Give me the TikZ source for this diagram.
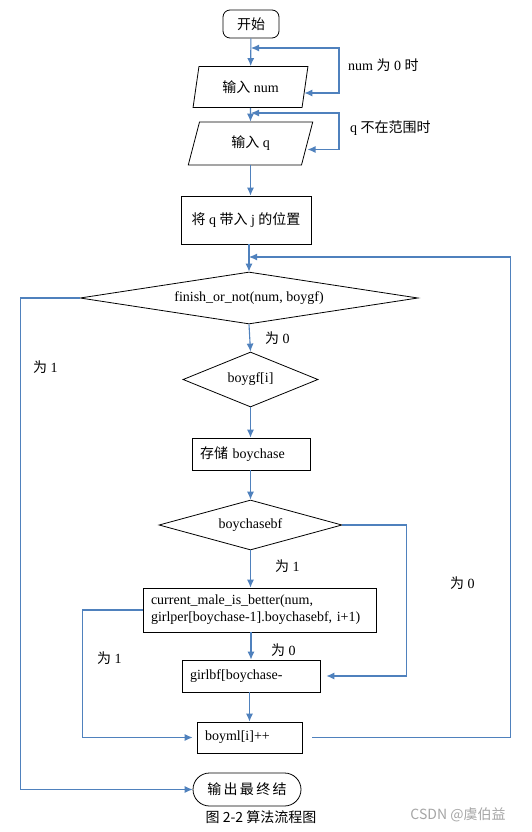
\documentclass[tikz,border=0pt]{standalone}
\usepackage{fontspec}
\setmainfont{Liberation Serif}
\newfontfamily\cjk{Noto Sans CJK SC}
\usepackage{tikz}
\usetikzlibrary{arrows.meta, positioning, shapes.geometric, calc}
\usepackage{xcolor}
\definecolor{linkblue}{RGB}{79,129,189}
\newcommand{\zh}[1]{{\cjk #1}}

\begin{document}
\begin{tikzpicture}[
  x=1pt, y=-1pt,
  font=\fontsize{14}{17}\selectfont,
  box/.style={rectangle, draw=black, line width=0.8pt, inner ysep=0pt, inner xsep=8pt, align=left},
  term/.style={rectangle, draw=black, line width=0.8pt, inner sep=0pt},
  io/.style={trapezium, draw=black, line width=0.8pt, trapezium stretches=true, inner sep=0pt},
  cond/.style={diamond, draw=black, line width=0.8pt, inner sep=0pt},
  arrow/.style={-{Latex[length=8pt,width=7pt]}, draw=linkblue, line width=1.1pt},
  twoway/.style={{Latex[length=8pt,width=7pt]}-{Latex[length=8pt,width=7pt]}, draw=linkblue, line width=1.1pt},
  lbl/.style={inner sep=0pt, anchor=west}
]
\fill[white] (0,0) rectangle (531,832);
\useasboundingbox (0,0) rectangle (531,832);

\node[term, rounded corners=7pt, minimum width=56pt, minimum height=28pt] (start) at (251,24) {\zh{开始}};
\node[io, trapezium left angle=76, trapezium right angle=104, minimum width=115pt, minimum height=41pt] (innum) at (250.5,87) {\zh{输入} num};
\node[io, trapezium left angle=74, trapezium right angle=106, minimum width=125pt, minimum height=43pt] (inq) at (250.5,143.5) {\zh{输入} q};
\node[box, align=center, minimum width=130pt, minimum height=48pt] (place) at (246,220) {\zh{将} q \zh{带入} j \zh{的位置}};
\node[cond, aspect=6.5, minimum width=338pt, minimum height=52pt] (finish) at (249,298) {finish\_or\_not(num, boygf)};
\node[cond, aspect=2.45, minimum width=135pt, minimum height=55pt] (bgf) at (250.5,379.5) {boygf[i]};
\node[box, text width=102pt, minimum height=32pt] (store) at (251,454) {\zh{存储} boychase};
\node[cond, aspect=3.66, minimum width=183pt, minimum height=50pt] (bcbf) at (250.5,525) {boychasebf};
\node[box, text width=217pt, minimum height=44pt] (better) at (259.5,610) {current\_male\_is\_better(num,\\girlper[boychase-1].boychasebf, i+1)};
\node[box, text width=122pt, minimum height=32pt] (girlbf) at (251,676) {girlbf[boychase-};
\node[box, text width=89pt, minimum height=31pt] (boyml) at (249.5,737.5) {boyml[i]++};
\node[term, rounded corners=16.5pt, minimum width=108pt, minimum height=33pt] (stop) at (247,789.5) {\zh{输\,出\,最\,终\,结}};

\node[lbl] (lnum) at (348,65) {num \zh{为} 0 \zh{时}};
\node[lbl] (lq) at (350,128) {q \zh{不在范围时}};
\node[lbl] (lfin0) at (265,338) {\zh{为} 0};
\node[lbl] (lfin1) at (33,367) {\zh{为} 1};
\node[lbl] (lbc1) at (275,566) {\zh{为} 1};
\node[lbl] (lloop0) at (450,583) {\zh{为} 0};
\node[lbl] (lbet1) at (97,658) {\zh{为} 1};
\node[lbl] (lbet0) at (271,650) {\zh{为} 0};

\node[font=\cjk\fontsize{14}{17}\selectfont] (caption) at (261,817) {图 2-2 算法流程图};
\node[font=\cjk\fontsize{14}{17}\selectfont, text=black!35] (mark) at (458,815) {CSDN @虞伯益};

\coordinate (numjoin) at (251,48);
\coordinate (qjoin) at (251,113);
\coordinate (loopjoin) at (249,257);

\draw[arrow] (start) -- (innum);
\draw[twoway] (numjoin) -- ++(88,0) |- ($(innum.east)+(-1,6)$);
\draw[arrow] (innum) -- (inq);
\draw[twoway] (qjoin) -- ++(88,0) |- ($(inq.east)+(0,6)$);
\draw[arrow] (inq.south) -- (inq.south |- place.north);
\draw[arrow] (finish.north |- place.south) -- (finish.north);
\draw[arrow] ($(boyml.east)+(10,0)$) -- ++(198,0) |- (loopjoin);
\draw[arrow] (finish.west) -- ++(-59,0) |- (stop.west);
\draw[arrow] (finish.south) -- (bgf.north);
\draw[arrow] (bgf.south) -- (bgf.south |- store.north);
\draw[arrow] (bcbf.north |- store.south) -- (bcbf.north);
\draw[arrow] (bcbf.east) -- ++(64,0) |- ($(girlbf.east)+(6,0)$);
\draw[arrow] (bcbf.south) -- (bcbf.south |- better.north);
\draw[arrow] (better.west) -- ++(-60,0) |- ($(boyml.west)+(-4,0)$);
\draw[arrow] (girlbf.north |- better.south) -- (girlbf.north);
\draw[arrow] (boyml.north |- girlbf.south) -- (boyml.north);

\end{tikzpicture}
\end{document}
